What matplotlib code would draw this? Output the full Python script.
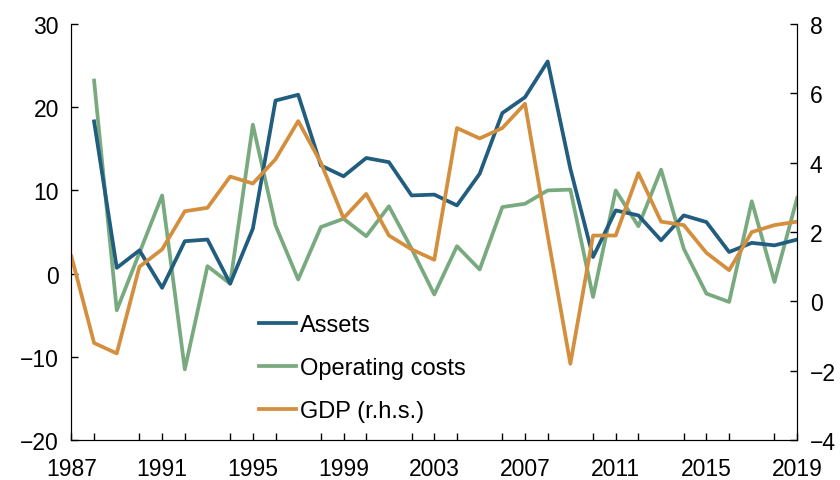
import matplotlib.pyplot as plt
from matplotlib.ticker import MultipleLocator

plt.rcParams['font.family'] = ['Liberation Sans', 'DejaVu Sans']

years_gdp = list(range(1987, 2020))
years = list(range(1988, 2020))

assets = [18.3, 0.7, 2.8, -1.7, 3.9, 4.1, -1.2, 5.4, 20.8, 21.5, 13.0, 11.7,
          13.9, 13.4, 9.4, 9.5, 8.2, 12.0, 19.3, 21.2, 25.5, 12.6, 2.0, 7.6,
          7.0, 4.0, 7.0, 6.2, 2.6, 3.7, 3.4, 4.1]
op_costs = [23.2, -4.4, 2.5, 9.4, -11.5, 0.9, -1.2, 17.9, 5.8, -0.7, 5.6, 6.6,
            4.5, 8.1, 3.0, -2.5, 3.3, 0.5, 8.0, 8.4, 10.0, 10.1, -2.8, 10.0,
            5.7, 12.5, 3.0, -2.4, -3.4, 8.7, -1.0, 9.1]
gdp = [1.3, -1.2, -1.5, 1.0, 1.5, 2.6, 2.7, 3.6, 3.4, 4.1, 5.2, 4.0, 2.4,
       3.1, 1.9, 1.5, 1.2, 5.0, 4.7, 5.0, 5.7, 1.9, -1.8, 1.9, 1.9, 3.7,
       2.3, 2.2, 1.4, 0.9, 2.0, 2.2, 2.3]

c_assets = '#215d7e'
c_ops = '#79aa7f'
c_gdp = '#d38f3e'

fig, ax = plt.subplots(figsize=(8.4, 4.81), dpi=100)
fig.subplots_adjust(left=0.085, right=0.949, top=0.948, bottom=0.083)
ax2 = ax.twinx()

l1, = ax.plot(years, assets, color=c_assets, lw=2.7, label='Assets', zorder=3)
l2, = ax.plot(years, op_costs, color=c_ops, lw=2.7, label='Operating costs', zorder=2)
l3, = ax2.plot(years_gdp, gdp, color=c_gdp, lw=2.7, label='GDP (r.h.s.)')

ax.set_xlim(1987, 2019)
ax.set_ylim(-20, 30)
ax2.set_ylim(-4, 8)
ax.set_xticks(range(1987, 2020, 4))
ax.xaxis.set_minor_locator(MultipleLocator(2))
ax.set_yticks(range(-20, 31, 10))
ax2.set_yticks(range(-4, 9, 2))

for a in (ax, ax2):
    a.spines['top'].set_visible(False)
    a.tick_params(direction='in', labelsize=16.5, length=5, width=1)
    a.tick_params(which='minor', direction='in', length=5, width=1)
ax.tick_params(axis='x', pad=12)
ax.tick_params(axis='y', pad=9)
ax2.tick_params(axis='y', pad=9)

ax.legend(handles=[l1, l2, l3], loc='upper left', bbox_to_anchor=(0.258, 0.302),
          frameon=False, fontsize=17, handlelength=1.6, handletextpad=0.15,
          labelspacing=0.88, borderaxespad=0, borderpad=0)

plt.savefig('out.png', dpi=100)
